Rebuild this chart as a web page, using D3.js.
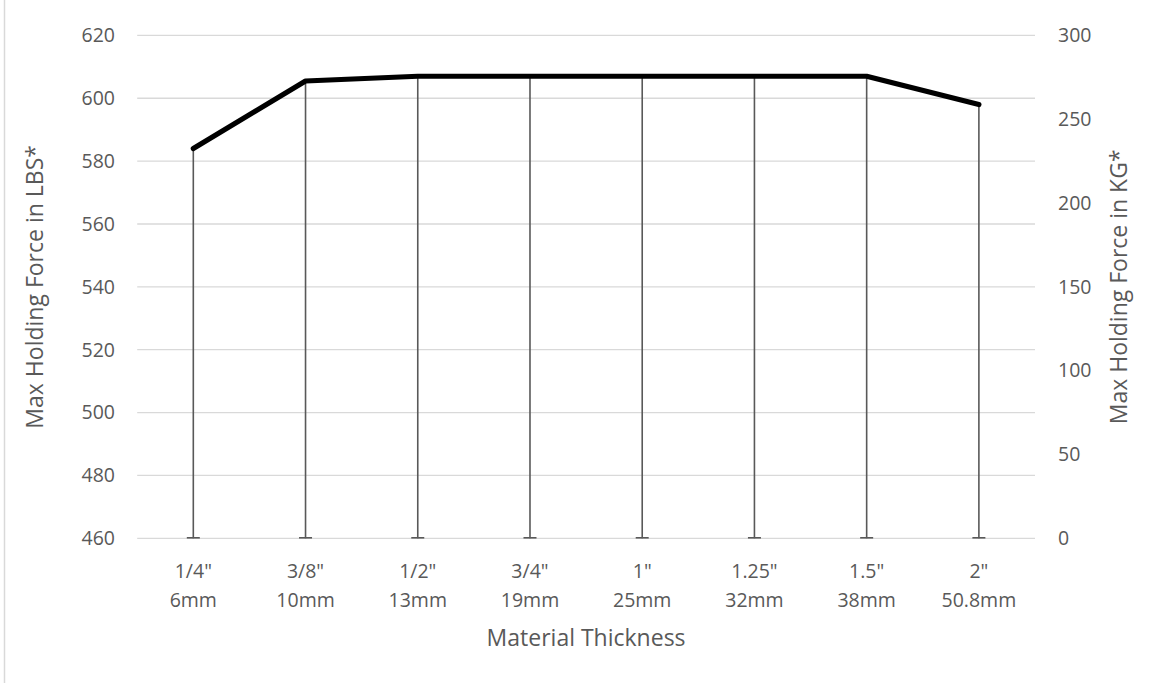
<!DOCTYPE html>
<html>
<head>
<meta charset="utf-8">
<script src="https://cdn.jsdelivr.net/npm/d3@7"></script>
<style>
  body { margin: 0; background: #fff; }
  text { font-family: 'Open Sans', sans-serif; fill: #595959; }
</style>
</head>
<body>
<div id="chart"></div>
<script>
// data
const thicknessIn = ['1/4"', '3/8"', '1/2"', '3/4"', '1"', '1.25"', '1.5"', '2"']
const thicknessMm = ['6mm', '10mm', '13mm', '19mm', '25mm', '32mm', '38mm', '50.8mm']
const holdingLbs = [584, 605.5, 607, 607, 607, 607, 607, 598]
const lbsTicks = [460, 480, 500, 520, 540, 560, 580, 600, 620]
const kgTicks = [0, 50, 100, 150, 200, 250, 300]

const width = 1163
const height = 683
const margin = { top: 35.4, right: 128, bottom: 144.7, left: 137.2 }

const svg = d3.select('#chart').append('svg')
  .attr('width', width)
  .attr('height', height)

// chart border, only its left edge is in view
svg.append('rect')
  .attr('x', 4.5).attr('y', -10)
  .attr('width', width + 20).attr('height', height + 20)
  .attr('fill', 'none')
  .attr('stroke', '#d9d9d9')
  .attr('stroke-width', 1.5)

const x = d3.scaleBand()
  .domain(thicknessIn)
  .range([margin.left, width - margin.right])

const y = d3.scaleLinear()
  .domain([460, 620])
  .range([height - margin.bottom, margin.top])

const yKg = d3.scaleLinear()
  .domain([0, 300])
  .range([height - margin.bottom, margin.top])

const cx = d => x(d) + x.bandwidth() / 2

// gridlines
svg.append('g')
  .selectAll('line')
  .data(lbsTicks)
  .join('line')
  .attr('x1', margin.left)
  .attr('x2', width - margin.right)
  .attr('y1', d => y(d))
  .attr('y2', d => y(d))
  .attr('stroke', '#d9d9d9')
  .attr('stroke-width', 1.3)

// left axis labels
svg.append('g')
  .selectAll('text')
  .data(lbsTicks)
  .join('text')
  .attr('x', 115)
  .attr('y', d => y(d))
  .attr('dy', '0.35em')
  .attr('text-anchor', 'end')
  .attr('font-size', 19.5)
  .text(d => d)

// right axis labels
svg.append('g')
  .selectAll('text')
  .data(kgTicks)
  .join('text')
  .attr('x', 1058)
  .attr('y', d => yKg(d))
  .attr('dy', '0.35em')
  .attr('text-anchor', 'start')
  .attr('font-size', 19.5)
  .text(d => d)

// error bars down to the axis
const bars = svg.append('g')
  .attr('stroke', '#595959')
  .attr('stroke-width', 1.6)
bars.selectAll('line.drop')
  .data(holdingLbs)
  .join('line')
  .attr('class', 'drop')
  .attr('x1', (d, i) => cx(thicknessIn[i]))
  .attr('x2', (d, i) => cx(thicknessIn[i]))
  .attr('y1', d => y(d))
  .attr('y2', y(460))
bars.selectAll('line.cap')
  .data(holdingLbs)
  .join('line')
  .attr('class', 'cap')
  .attr('x1', (d, i) => cx(thicknessIn[i]) - 6.5)
  .attr('x2', (d, i) => cx(thicknessIn[i]) + 6.5)
  .attr('y1', y(460) - 0.5)
  .attr('y2', y(460) - 0.5)

// the line
const line = d3.line()
  .x((d, i) => cx(thicknessIn[i]))
  .y(d => y(d))

svg.append('path')
  .datum(holdingLbs)
  .attr('d', line)
  .attr('fill', 'none')
  .attr('stroke', '#000')
  .attr('stroke-width', 5.2)
  .attr('stroke-linejoin', 'round')
  .attr('stroke-linecap', 'round')

// category labels, two lines each
const xLabels = svg.append('g')
  .selectAll('text')
  .data(thicknessIn)
  .join('text')
  .attr('text-anchor', 'middle')
  .attr('font-size', 19.5)
xLabels.append('tspan')
  .attr('x', d => cx(d))
  .attr('y', 578)
  .text(d => d)
xLabels.append('tspan')
  .attr('x', d => cx(d))
  .attr('y', 607)
  .text((d, i) => thicknessMm[i])

// axis titles
svg.append('text')
  .attr('x', (margin.left + width - margin.right) / 2)
  .attr('y', 646)
  .attr('text-anchor', 'middle')
  .attr('font-size', 23)
  .text('Material Thickness')

svg.append('text')
  .attr('transform', 'translate(43,' + y(540) + ') rotate(-90)')
  .attr('text-anchor', 'middle')
  .attr('font-size', 23)
  .text('Max Holding Force in LBS*')

svg.append('text')
  .attr('transform', 'translate(1127,' + y(540) + ') rotate(-90)')
  .attr('text-anchor', 'middle')
  .attr('font-size', 23)
  .text('Max Holding Force in KG*')
</script>
</body>
</html>
